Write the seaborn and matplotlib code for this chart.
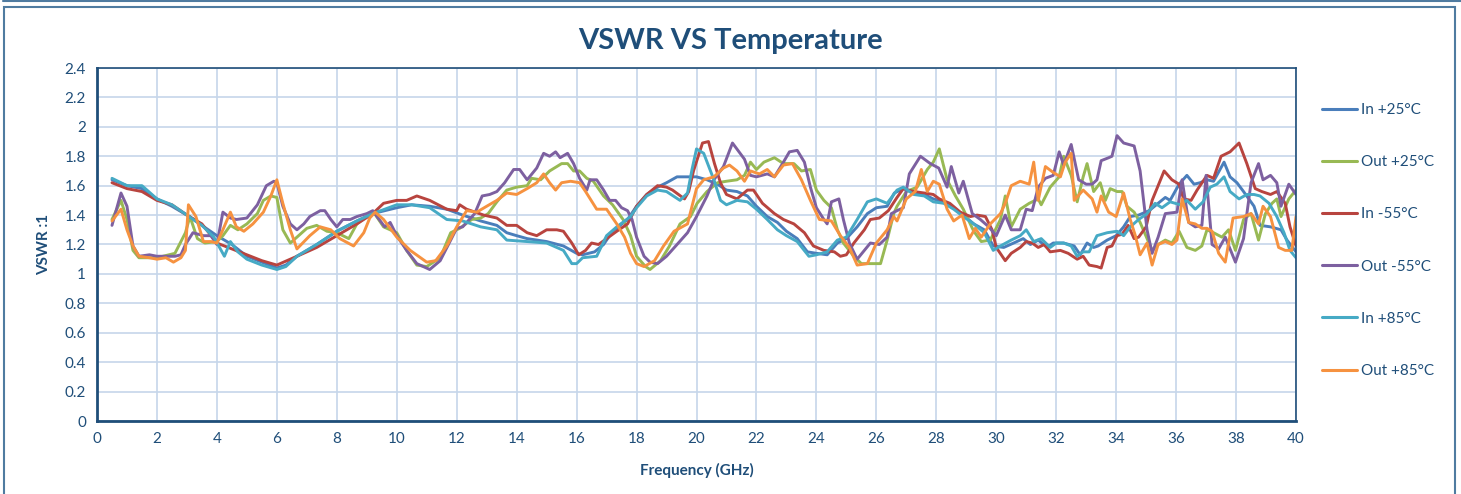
import pandas as pd
import matplotlib
matplotlib.use("Agg")
import matplotlib.pyplot as plt
import seaborn as sns
from matplotlib.patches import Rectangle
from matplotlib.lines import Line2D
from matplotlib.ticker import FormatStrFormatter

# series labels, in Excel series order
series_names = ['In +25°C', 'Out +25°C', 'In -55°C', 'Out -55°C', 'In +85°C', 'Out +85°C']
series_colors = ['#4A7EBB', '#98B954', '#B8443F', '#7D60A0', '#46AAC5', '#F69240']

# values (frequency GHz, VSWR)
freq_in25 = [0.5, 1.0, 1.5, 2.0, 2.5, 3.0, 3.5, 4.0, 4.5, 5.0, 5.5, 6.0, 6.3, 6.67, 7.33, 8.0, 8.67,
             9.2, 10.0, 10.5, 11.1, 11.67, 12.2, 12.8, 13.34, 13.67, 14.0, 14.35, 15.0, 15.56, 16.0,
             16.2, 16.6, 16.9, 17.2, 17.7, 18.0, 18.34, 18.7, 19.0, 19.35, 20.0, 20.35, 20.7, 21.0,
             21.35, 21.7, 22.0, 22.36, 22.7, 23.0, 23.36, 23.7, 24.0, 24.36, 24.7, 25.0, 25.36, 25.7,
             26.0, 26.36, 26.6, 26.9, 27.25, 27.6, 27.9, 28.25, 28.58, 28.9, 29.25, 29.6, 29.9, 30.25,
             30.58, 30.9, 31.14, 31.4, 31.7, 31.9, 32.25, 32.6, 32.8, 33.03, 33.25, 33.4, 33.7, 34.0,
             34.25, 34.47, 34.75, 35.1, 35.4, 35.64, 35.8, 36.1, 36.36, 36.6, 36.8, 37.03, 37.25,
             37.6, 37.8, 38.03, 38.25, 38.6, 38.8, 39.15, 39.5, 39.7, 40.0]
vswr_in25 = [1.64, 1.60, 1.58, 1.51, 1.46, 1.40, 1.33, 1.26, 1.20, 1.12, 1.08, 1.04, 1.06, 1.12, 1.20,
             1.29, 1.36, 1.41, 1.45, 1.47, 1.46, 1.44, 1.40, 1.36, 1.33, 1.28, 1.26, 1.24, 1.22, 1.19,
             1.14, 1.13, 1.15, 1.20, 1.29, 1.37, 1.46, 1.54, 1.59, 1.62, 1.66, 1.66, 1.64, 1.61, 1.57,
             1.56, 1.53, 1.46, 1.39, 1.35, 1.29, 1.24, 1.15, 1.14, 1.13, 1.21, 1.24, 1.32, 1.41, 1.45,
             1.46, 1.55, 1.58, 1.55, 1.54, 1.51, 1.49, 1.45, 1.40, 1.34, 1.30, 1.19, 1.18, 1.21, 1.24,
             1.20, 1.23, 1.18, 1.21, 1.21, 1.19, 1.13, 1.21, 1.18, 1.19, 1.23, 1.26, 1.32, 1.39, 1.40,
             1.43, 1.48, 1.52, 1.50, 1.61, 1.67, 1.61, 1.62, 1.64, 1.63, 1.76, 1.66, 1.62, 1.56, 1.46,
             1.33, 1.32, 1.30, 1.23, 1.15]

freq_in55 = [0.5, 1.0, 1.5, 2.0, 2.5, 3.0, 3.5, 4.0, 4.5, 5.0, 5.5, 6.0, 6.67, 7.33, 8.0, 8.67, 9.2,
             9.56, 10.0, 10.33, 10.67, 11.1, 11.67, 12.0, 12.1, 12.33, 12.9, 13.34, 13.67, 14.0, 14.35,
             14.67, 15.0, 15.34, 15.56, 15.84, 16.07, 16.3, 16.5, 16.73, 17.0, 17.34, 17.7, 18.0, 18.34,
             18.7, 19.0, 19.2, 19.6, 19.74, 19.9, 20.2, 20.4, 20.6, 20.8, 21.0, 21.35, 21.7, 21.9, 22.2,
             22.6, 22.9, 23.25, 23.6, 23.9, 24.25, 24.6, 24.8, 25.0, 25.25, 25.6, 25.8, 26.1, 26.4,
             26.69, 26.9, 27.25, 27.6, 27.9, 28.1, 28.45, 28.8, 29.14, 29.36, 29.64, 29.86, 30.0, 30.3,
             30.5, 30.8, 31.0, 31.2, 31.4, 31.6, 31.8, 32.14, 32.4, 32.7, 32.9, 33.1, 33.36, 33.5, 33.7,
             33.86, 34.03, 34.2, 34.4, 34.6, 34.75, 35.0, 35.2, 35.6, 35.86, 36.1, 36.25, 36.5, 36.7,
             37.03, 37.25, 37.5, 37.8, 38.1, 38.36, 38.64, 38.86, 39.15, 39.36, 39.64, 39.8, 40.0]
vswr_in55 = [1.62, 1.58, 1.56, 1.50, 1.47, 1.40, 1.34, 1.21, 1.17, 1.13, 1.09, 1.06, 1.12, 1.18, 1.26,
             1.34, 1.41, 1.48, 1.50, 1.50, 1.53, 1.50, 1.44, 1.43, 1.47, 1.44, 1.40, 1.38, 1.33, 1.33,
             1.28, 1.26, 1.30, 1.30, 1.29, 1.21, 1.13, 1.16, 1.21, 1.20, 1.24, 1.29, 1.34, 1.46, 1.54,
             1.60, 1.59, 1.57, 1.51, 1.56, 1.70, 1.89, 1.90, 1.75, 1.62, 1.54, 1.51, 1.57, 1.57, 1.48,
             1.41, 1.37, 1.34, 1.28, 1.19, 1.16, 1.15, 1.12, 1.13, 1.21, 1.30, 1.37, 1.38, 1.43, 1.52,
             1.58, 1.56, 1.55, 1.54, 1.51, 1.48, 1.42, 1.39, 1.40, 1.39, 1.30, 1.18, 1.09, 1.14, 1.18,
             1.22, 1.21, 1.18, 1.20, 1.15, 1.16, 1.14, 1.10, 1.12, 1.06, 1.05, 1.04, 1.18, 1.19, 1.26,
             1.27, 1.33, 1.24, 1.25, 1.32, 1.50, 1.70, 1.64, 1.61, 1.51, 1.50, 1.57, 1.67, 1.65, 1.80,
             1.83, 1.89, 1.75, 1.58, 1.56, 1.54, 1.56, 1.48, 1.32, 1.19]

freq_in85 = [0.5, 1.0, 1.5, 2.0, 2.5, 3.0, 3.5, 3.9, 4.25, 4.45, 4.7, 5.0, 5.5, 6.0, 6.3, 6.67, 7.33,
             8.0, 8.67, 9.2, 10.0, 10.5, 11.1, 11.67, 12.2, 12.8, 13.34, 13.67, 14.35, 15.0, 15.56,
             15.84, 16.0, 16.2, 16.67, 17.0, 17.34, 17.8, 18.0, 18.34, 18.7, 19.0, 19.45, 19.7, 19.85,
             20.0, 20.24, 20.58, 20.8, 21.0, 21.35, 21.7, 22.0, 22.36, 22.7, 23.0, 23.36, 23.75, 24.0,
             24.36, 24.7, 25.0, 25.36, 25.7, 26.0, 26.36, 26.69, 26.9, 27.25, 27.6, 27.9, 28.25, 28.58,
             28.9, 29.25, 29.6, 29.9, 30.14, 30.5, 30.8, 31.0, 31.25, 31.5, 31.8, 32.0, 32.25, 32.5,
             32.7, 32.9, 33.1, 33.36, 33.7, 34.03, 34.25, 34.47, 34.75, 35.03, 35.3, 35.53, 35.8, 36.14,
             36.36, 36.64, 36.9, 37.14, 37.36, 37.6, 37.8, 38.1, 38.36, 38.6, 38.8, 39.1, 39.36, 39.6,
             39.8, 40.0]
vswr_in85 = [1.65, 1.60, 1.60, 1.51, 1.47, 1.40, 1.33, 1.25, 1.12, 1.22, 1.15, 1.10, 1.06, 1.03, 1.05,
             1.12, 1.20, 1.29, 1.36, 1.41, 1.47, 1.47, 1.45, 1.37, 1.36, 1.32, 1.30, 1.23, 1.22, 1.21,
             1.16, 1.07, 1.07, 1.11, 1.12, 1.26, 1.32, 1.39, 1.45, 1.53, 1.57, 1.56, 1.50, 1.55, 1.71,
             1.85, 1.82, 1.64, 1.50, 1.47, 1.50, 1.49, 1.44, 1.37, 1.30, 1.26, 1.22, 1.12, 1.13, 1.15,
             1.23, 1.25, 1.37, 1.49, 1.51, 1.48, 1.57, 1.59, 1.54, 1.53, 1.49, 1.48, 1.44, 1.39, 1.34,
             1.28, 1.16, 1.19, 1.23, 1.26, 1.30, 1.22, 1.24, 1.18, 1.21, 1.21, 1.19, 1.12, 1.15, 1.15,
             1.26, 1.28, 1.29, 1.26, 1.32, 1.37, 1.41, 1.48, 1.45, 1.49, 1.47, 1.50, 1.44, 1.49, 1.59,
             1.61, 1.66, 1.56, 1.51, 1.54, 1.54, 1.53, 1.48, 1.39, 1.28, 1.16, 1.11]

freq_out25 = [0.5, 0.8, 1.0, 1.2, 1.4, 2.0, 2.6, 2.95, 3.1, 3.35, 3.6, 4.0, 4.2, 4.45, 4.7, 5.0, 5.35,
              5.55, 5.8, 6.0, 6.2, 6.45, 6.67, 7.0, 7.33, 7.67, 8.0, 8.4, 8.67, 9.0, 9.23, 9.56, 10.0,
              10.33, 10.67, 11.0, 11.45, 11.8, 12.1, 12.5, 12.8, 13.05, 13.34, 13.67, 14.0, 14.35, 14.5,
              14.8, 15.1, 15.5, 15.7, 15.9, 16.1, 16.34, 16.56, 16.9, 17.2, 17.55, 17.8, 18.0, 18.3,
              18.45, 18.8, 19.1, 19.45, 19.8, 20.02, 20.35, 20.7, 21.0, 21.35, 21.6, 21.8, 22.0, 22.25,
              22.6, 22.9, 23.25, 23.5, 23.8, 24.0, 24.25, 24.5, 24.7, 24.9, 25.25, 25.5, 25.8, 26.14,
              26.36, 26.58, 26.69, 27.0, 27.36, 27.7, 27.9, 28.1, 28.36, 28.64, 28.9, 29.25, 29.5, 29.8,
              30.14, 30.3, 30.5, 30.8, 31.1, 31.4, 31.5, 31.8, 32.1, 32.25, 32.5, 32.7, 32.9, 33.03,
              33.25, 33.47, 33.64, 33.8, 34.03, 34.2, 34.36, 34.6, 34.8, 35.03, 35.2, 35.4, 35.64,
              35.86, 36.1, 36.36, 36.64, 36.86, 37.03, 37.25, 37.53, 37.75, 37.98, 38.25, 38.5, 38.75,
              38.98, 39.2, 39.36, 39.5, 39.76, 40.0]
vswr_out25 = [1.37, 1.50, 1.37, 1.16, 1.11, 1.11, 1.14, 1.28, 1.39, 1.24, 1.21, 1.22, 1.26, 1.33, 1.30,
              1.34, 1.41, 1.50, 1.53, 1.52, 1.30, 1.21, 1.25, 1.31, 1.33, 1.29, 1.28, 1.24, 1.34, 1.39,
              1.42, 1.32, 1.28, 1.16, 1.06, 1.05, 1.11, 1.28, 1.31, 1.37, 1.38, 1.41, 1.49, 1.57, 1.59,
              1.60, 1.65, 1.64, 1.70, 1.75, 1.75, 1.70, 1.70, 1.65, 1.63, 1.53, 1.47, 1.37, 1.26, 1.12,
              1.05, 1.03, 1.09, 1.19, 1.34, 1.39, 1.48, 1.56, 1.62, 1.63, 1.64, 1.67, 1.76, 1.71, 1.76,
              1.79, 1.75, 1.75, 1.70, 1.71, 1.57, 1.50, 1.45, 1.30, 1.21, 1.12, 1.07, 1.07, 1.07, 1.23,
              1.41, 1.46, 1.56, 1.59, 1.71, 1.76, 1.85, 1.64, 1.53, 1.44, 1.29, 1.22, 1.23, 1.37, 1.53,
              1.32, 1.44, 1.48, 1.51, 1.47, 1.59, 1.66, 1.80, 1.67, 1.49, 1.66, 1.75, 1.56, 1.62, 1.50,
              1.58, 1.56, 1.56, 1.46, 1.42, 1.35, 1.24, 1.16, 1.20, 1.23, 1.21, 1.29, 1.18, 1.16, 1.19,
              1.30, 1.28, 1.25, 1.30, 1.16, 1.37, 1.41, 1.23, 1.41, 1.48, 1.51, 1.39, 1.51, 1.57]

freq_out55 = [0.5, 0.8, 1.0, 1.2, 1.4, 1.75, 2.0, 2.6, 2.8, 2.95, 3.2, 3.55, 3.8, 4.0, 4.2, 4.45, 4.65,
              5.0, 5.35, 5.65, 5.9, 6.0, 6.2, 6.45, 6.67, 6.9, 7.1, 7.45, 7.6, 7.8, 8.0, 8.2, 8.45, 8.67,
              9.0, 9.2, 9.34, 9.6, 9.78, 10.0, 10.33, 10.67, 11.1, 11.45, 11.8, 12.0, 12.2, 12.6, 12.85,
              13.1, 13.34, 13.6, 13.9, 14.1, 14.35, 14.67, 14.9, 15.1, 15.3, 15.45, 15.7, 15.9, 16.1,
              16.34, 16.45, 16.67, 16.9, 17.1, 17.3, 17.5, 17.7, 17.85, 18.0, 18.25, 18.45, 18.7, 19.0,
              19.35, 19.7, 20.0, 20.35, 20.58, 20.9, 21.2, 21.6, 21.8, 22.0, 22.36, 22.6, 22.9, 23.1,
              23.36, 23.6, 23.8, 24.0, 24.25, 24.36, 24.5, 24.75, 24.9, 25.1, 25.36, 25.6, 25.8, 26.1,
              26.36, 26.5, 26.69, 26.9, 27.1, 27.47, 27.8, 28.08, 28.36, 28.5, 28.75, 28.9, 29.2, 29.47,
              29.75, 30.0, 30.3, 30.5, 30.8, 31.0, 31.2, 31.4, 31.64, 31.9, 32.1, 32.25, 32.5, 32.75,
              33.0, 33.2, 33.36, 33.5, 33.75, 33.86, 34.03, 34.25, 34.6, 34.8, 35.03, 35.2, 35.4, 35.64,
              36.03, 36.2, 36.42, 36.64, 36.86, 37.0, 37.2, 37.42, 37.64, 37.98, 38.25, 38.5, 38.75,
              38.9, 39.15, 39.36, 39.5, 39.76, 40.0]
vswr_out55 = [1.33, 1.55, 1.46, 1.19, 1.12, 1.13, 1.12, 1.12, 1.13, 1.20, 1.28, 1.26, 1.26, 1.20, 1.42,
              1.38, 1.37, 1.38, 1.47, 1.60, 1.63, 1.62, 1.46, 1.34, 1.30, 1.34, 1.39, 1.43, 1.43, 1.37,
              1.32, 1.37, 1.37, 1.39, 1.41, 1.43, 1.39, 1.32, 1.35, 1.26, 1.16, 1.07, 1.03, 1.09, 1.23,
              1.31, 1.32, 1.41, 1.53, 1.54, 1.56, 1.62, 1.71, 1.71, 1.64, 1.72, 1.82, 1.80, 1.83, 1.79,
              1.82, 1.75, 1.65, 1.57, 1.64, 1.64, 1.57, 1.50, 1.50, 1.45, 1.43, 1.37, 1.25, 1.12, 1.08,
              1.07, 1.12, 1.20, 1.28, 1.39, 1.53, 1.64, 1.73, 1.89, 1.78, 1.67, 1.66, 1.68, 1.66, 1.76,
              1.83, 1.84, 1.76, 1.59, 1.45, 1.37, 1.34, 1.49, 1.51, 1.37, 1.21, 1.10, 1.16, 1.21, 1.20,
              1.25, 1.41, 1.43, 1.45, 1.68, 1.80, 1.75, 1.72, 1.59, 1.73, 1.55, 1.63, 1.41, 1.37, 1.32,
              1.26, 1.40, 1.30, 1.30, 1.44, 1.43, 1.59, 1.65, 1.67, 1.83, 1.74, 1.88, 1.64, 1.61, 1.61,
              1.64, 1.77, 1.79, 1.80, 1.94, 1.89, 1.87, 1.70, 1.30, 1.14, 1.25, 1.41, 1.42, 1.64, 1.35,
              1.32, 1.33, 1.67, 1.20, 1.17, 1.25, 1.08, 1.24, 1.62, 1.75, 1.64, 1.67, 1.62, 1.46, 1.61,
              1.54]

freq_out85 = [0.5, 0.8, 1.0, 1.2, 1.4, 1.75, 2.0, 2.3, 2.55, 2.8, 2.95, 3.05, 3.3, 3.55, 3.8, 4.0, 4.2,
              4.45, 4.65, 4.9, 5.2, 5.55, 5.8, 6.0, 6.2, 6.45, 6.67, 7.1, 7.45, 7.8, 8.1, 8.56, 8.9, 9.1,
              9.28, 9.56, 10.0, 10.45, 11.0, 11.3, 11.67, 12.0, 12.33, 12.67, 13.0, 13.34, 13.67, 14.0,
              14.35, 14.67, 14.9, 15.1, 15.3, 15.5, 15.8, 16.1, 16.3, 16.67, 17.0, 17.34, 17.6, 17.8,
              18.0, 18.25, 18.6, 18.9, 19.25, 19.7, 20.0, 20.24, 20.58, 20.9, 21.1, 21.35, 21.6, 21.8,
              22.1, 22.36, 22.6, 22.9, 23.2, 23.5, 23.8, 24.1, 24.5, 24.8, 25.1, 25.36, 25.7, 26.0,
              26.36, 26.58, 26.69, 27.0, 27.3, 27.5, 27.7, 27.9, 28.1, 28.36, 28.58, 28.86, 29.1, 29.3,
              29.5, 29.8, 30.14, 30.3, 30.5, 30.8, 31.1, 31.25, 31.4, 31.64, 31.9, 32.14, 32.3, 32.5,
              32.6, 32.9, 33.2, 33.36, 33.5, 33.75, 34.0, 34.25, 34.47, 34.64, 34.8, 35.03, 35.2, 35.4,
              35.64, 35.86, 36.03, 36.2, 36.42, 36.64, 36.86, 37.03, 37.2, 37.42, 37.64, 37.9, 38.25,
              38.5, 38.75, 38.9, 39.15, 39.42, 39.64, 39.86, 40.0]
vswr_out85 = [1.36, 1.44, 1.30, 1.19, 1.12, 1.11, 1.10, 1.11, 1.08, 1.11, 1.16, 1.47, 1.39, 1.22, 1.22,
              1.21, 1.30, 1.42, 1.32, 1.29, 1.34, 1.42, 1.53, 1.64, 1.48, 1.30, 1.17, 1.26, 1.32, 1.30,
              1.24, 1.19, 1.28, 1.38, 1.42, 1.37, 1.25, 1.16, 1.08, 1.09, 1.19, 1.32, 1.43, 1.42, 1.46,
              1.50, 1.55, 1.54, 1.58, 1.62, 1.68, 1.62, 1.57, 1.62, 1.63, 1.62, 1.56, 1.44, 1.44, 1.34,
              1.25, 1.14, 1.07, 1.05, 1.09, 1.19, 1.29, 1.34, 1.58, 1.64, 1.66, 1.72, 1.74, 1.70, 1.63,
              1.70, 1.68, 1.71, 1.66, 1.74, 1.75, 1.64, 1.50, 1.37, 1.36, 1.26, 1.18, 1.06, 1.07, 1.21,
              1.30, 1.39, 1.36, 1.51, 1.56, 1.71, 1.56, 1.63, 1.61, 1.44, 1.36, 1.40, 1.24, 1.31, 1.25,
              1.34, 1.41, 1.48, 1.60, 1.63, 1.61, 1.76, 1.50, 1.73, 1.69, 1.66, 1.76, 1.82, 1.50, 1.57,
              1.51, 1.42, 1.53, 1.42, 1.39, 1.55, 1.37, 1.26, 1.13, 1.21, 1.06, 1.20, 1.22, 1.20, 1.23,
              1.51, 1.35, 1.34, 1.31, 1.31, 1.29, 1.14, 1.08, 1.38, 1.39, 1.41, 1.34, 1.46, 1.39, 1.18,
              1.16, 1.16, 1.39]

x_ticks = list(range(0, 41, 2))
y_ticks = [round(0.2 * i, 1) for i in range(13)]

all_freqs = [freq_in25, freq_out25, freq_in55, freq_out55, freq_in85, freq_out85]
all_vswr = [vswr_in25, vswr_out25, vswr_in55, vswr_out55, vswr_in85, vswr_out85]

frames = []
for name, f, v in zip(series_names, all_freqs, all_vswr):
    frames.append(pd.DataFrame({'Frequency': f, 'VSWR': v, 'Series': name}))
df = pd.concat(frames, ignore_index=True)

sns.set_style("white")
plt.rcParams['font.family'] = ['Lato', 'DejaVu Sans']
text_col = '#1F4E79'
grid_col = '#C6D6EA'

fig = plt.figure(figsize=(14.61, 4.94), dpi=100)
ax = fig.add_axes([97 / 1461, 1 - 421 / 494, (1296 - 97) / 1461, (421 - 68) / 494])

sns.lineplot(data=df, x='Frequency', y='VSWR', hue='Series', hue_order=series_names,
             palette=series_colors, estimator=None, sort=False, linewidth=2.1,
             legend=False, ax=ax)

ax.set_xlim(0, 40)
ax.set_ylim(0, 2.4)
ax.set_xticks(x_ticks)
ax.set_yticks(y_ticks)
ax.yaxis.set_major_formatter(FormatStrFormatter('%g'))
ax.grid(True, color=grid_col, linewidth=1.2)
ax.set_axisbelow(True)
ax.tick_params(length=0, labelsize=11, colors=text_col, pad=8)
for side in ['top', 'right', 'bottom', 'left']:
    ax.spines[side].set_color(text_col)
    ax.spines[side].set_linewidth(1.2)
ax.spines['left'].set_linewidth(2)
ax.spines['bottom'].set_linewidth(2)

ax.set_xlabel('Frequency (GHz)', fontsize=11, fontweight='bold', color=text_col, labelpad=12)
ax.set_ylabel('VSWR :1', fontsize=11, fontweight='bold', color=text_col, labelpad=10)
fig.text(730 / 1461, 1 - 41 / 494, 'VSWR VS Temperature', ha='center', va='center',
         fontsize=21, fontweight='bold', color='#1F4E79')

# legend on the right
handles = [Line2D([0], [0], color=c, linewidth=2.2) for c in series_colors]
fig.legend(handles, series_names, loc='center left', bbox_to_anchor=(1322 / 1461, 1 - 240.5 / 494),
           frameon=False, fontsize=11, labelcolor=text_col, handlelength=2.3,
           handletextpad=0.25, labelspacing=2.5, borderpad=0, borderaxespad=0)

# chart frame
border = '#4F7BA0'
fig.patches.append(Rectangle((4 / 1461, -0.02), 1451 / 1461, 1.02 - 7 / 494,
                             transform=fig.transFigure, fill=False, edgecolor=border,
                             linewidth=1.5))
fig.lines.append(Line2D([3 / 1461, 1], [1 - 1 / 494, 1 - 1 / 494], transform=fig.transFigure,
                        color=border, linewidth=1.5))

fig.savefig('out.png', dpi=100)
